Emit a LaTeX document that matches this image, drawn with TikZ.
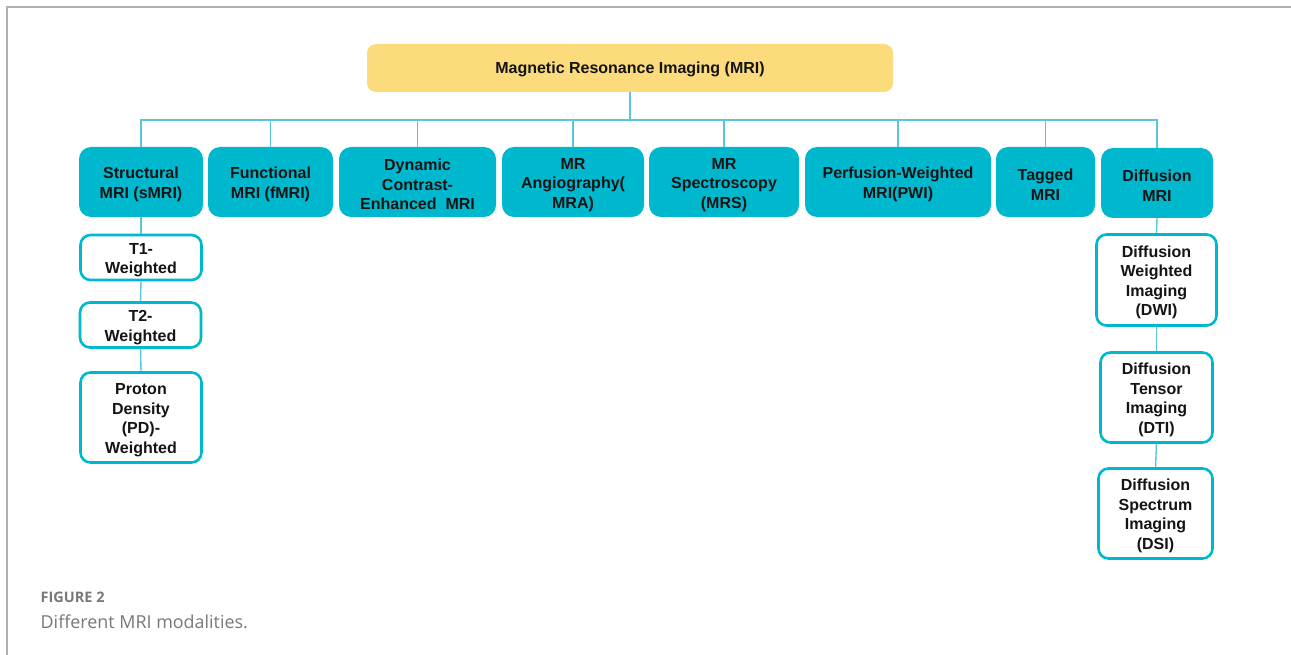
\documentclass[tikz,border=0pt]{standalone}
\usepackage{fontspec}
\setmainfont{Liberation Sans}
\newfontfamily\capfont{Open Sans}
\definecolor{teal1}{RGB}{0,184,206}
\definecolor{yel}{RGB}{251,219,124}
\definecolor{conncol}{RGB}{90,198,218}
\definecolor{framecol}{RGB}{175,175,175}
\definecolor{capgray}{RGB}{120,120,120}
\tikzset{
  txt/.style={font=\bfseries\fontsize{16}{19.5}\selectfont, text=black!92, align=center, inner sep=0pt},
  oneline/.style={text height=13.7pt},
  twolines/.style={text height=36.2pt},
  threelines/.style={text height=55.7pt},
  fourlines/.style={text height=75.2pt},
  rootbox/.style={txt, oneline, fill=yel, rounded corners=9pt, minimum width=526pt, minimum height=48pt},
  lvlone/.style={txt, fill=teal1, rounded corners=12pt, minimum height=70pt},
  subbox/.style={txt, draw=teal1, line width=2.6pt, fill=white, rounded corners=10pt},
  conn/.style={draw=conncol, line width=1.4pt},
  framel/.style={draw=framecol, line width=1.5pt}
}
\begin{document}
\begin{tikzpicture}[x=1pt,y=-1pt]
\useasboundingbox (0,0) rectangle (1291,655);
\draw[framel] (7,655) -- (7,7) -- (1291,7);

\node[rootbox] (root) at (630,68) {Magnetic Resonance Imaging (MRI)};
\coordinate (bus) at (630,120);

\node[lvlone, twolines, minimum width=124pt] (s1) at (141,182) {Structural\\MRI (sMRI)};
\node[lvlone, twolines, minimum width=125pt] (s2) at (270.5,182) {Functional\\MRI (fMRI)};
\node[lvlone, threelines, minimum width=157pt] (s3) at (417.5,182) {Dynamic\\Contrast-\\Enhanced\ \ MRI};
\node[lvlone, threelines, minimum width=142pt] (s4) at (573,182) {MR\\Angiography(\\MRA)};
\node[lvlone, threelines, minimum width=150pt] (s5) at (724,182) {MR\\Spectroscopy\\(MRS)};
\node[lvlone, twolines, minimum width=186pt] (s6) at (898,182) {Perfusion-Weighted\\MRI(PWI)};
\node[lvlone, twolines, minimum width=99pt] (s7) at (1045.5,182) {Tagged\\MRI};
\node[lvlone, twolines, minimum width=112pt] (s8) at (1157,183) {Diffusion\\MRI};

\foreach \c in {s1,s2,s3,s4,s5,s6,s7,s8}
  \draw[conn] (root.south) -- (bus) -| (\c.north);

\node[subbox, twolines, minimum width=121pt, minimum height=45pt] (t1) at (141,257.5) {T1-\\Weighted};
\node[subbox, twolines, minimum width=121pt, minimum height=45pt] (t2) at (140.5,325) {T2-\\Weighted};
\node[subbox, fourlines, minimum width=121pt, minimum height=90pt] (pd) at (141,417.5) {Proton\\Density\\(PD)-\\Weighted};

\node[subbox, fourlines, minimum width=120pt, minimum height=91pt] (dwi) at (1156.5,280) {Diffusion\\Weighted\\Imaging\\(DWI)};
\node[subbox, fourlines, minimum width=112pt, minimum height=90pt] (dti) at (1156.5,397.5) {Diffusion\\Tensor\\Imaging\\(DTI)};
\node[subbox, fourlines, minimum width=114pt, minimum height=90pt] (dsi) at (1155.5,513.5) {Diffusion\\Spectrum\\Imaging\\(DSI)};

\draw[conn] (s1.south) -- (t1.north);
\draw[conn] (t1.south) -- (t2.north);
\draw[conn] (t2.south) -- (pd.north);
\draw[conn] (s8.south) -- (dwi.north);
\draw[conn] (dwi.south) -- (dti.north);
\draw[conn] (dti.south) -- (dsi.north);

\node[anchor=base west, inner sep=0pt, text=capgray, font=\capfont\fontsize{14.5}{17}\selectfont\bfseries] (fig) at (40.5,602) {FIGURE 2};
\node[anchor=base west, inner sep=0pt, text=capgray, font=\capfont\fontsize{17.9}{20}\selectfont] (cap) at (40.5,628) {Different MRI modalities.};
\end{tikzpicture}
\end{document}
